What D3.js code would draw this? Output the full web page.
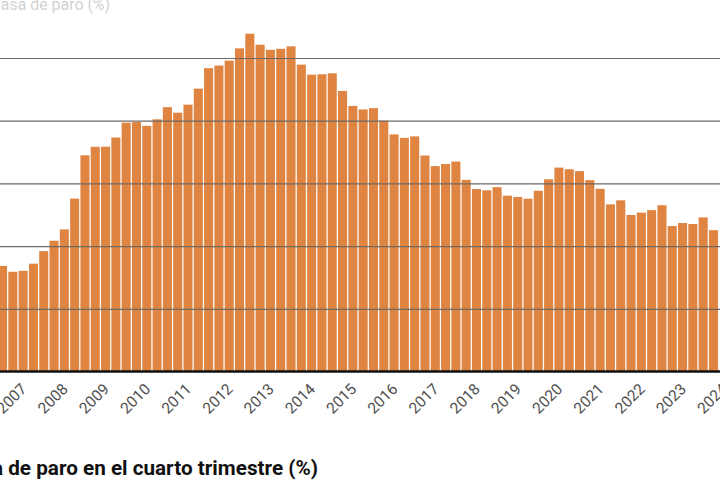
<!DOCTYPE html>
<html><head><meta charset="utf-8">
<script src="https://cdn.jsdelivr.net/npm/d3@7"></script>
<style>html,body{margin:0;padding:0;background:#fff;overflow:hidden}</style>
</head><body><svg id="c" width="720" height="480"></svg>
<script>
const yearLabels = ["2007","2008","2009","2010","2011","2012","2013","2014","2015","2016","2017","2018","2019","2020","2021","2022","2023","2024"];
const quarters = [
 "2007T1","2007T2","2007T3","2007T4","2008T1","2008T2","2008T3","2008T4",
 "2009T1","2009T2","2009T3","2009T4","2010T1","2010T2","2010T3","2010T4",
 "2011T1","2011T2","2011T3","2011T4","2012T1","2012T2","2012T3","2012T4",
 "2013T1","2013T2","2013T3","2013T4","2014T1","2014T2","2014T3","2014T4",
 "2015T1","2015T2","2015T3","2015T4","2016T1","2016T2","2016T3","2016T4",
 "2017T1","2017T2","2017T3","2017T4","2018T1","2018T2","2018T3","2018T4",
 "2019T1","2019T2","2019T3","2019T4","2020T1","2020T2","2020T3","2020T4",
 "2021T1","2021T2","2021T3","2021T4","2022T1","2022T2","2022T3","2022T4",
 "2023T1","2023T2","2023T3","2023T4","2024T1","2024T2"];
const paro = [
 8.42,7.95,8.03,8.60, 9.60,10.43,11.33,13.79,
 17.24,17.92,17.93,18.66, 19.84,19.89,19.59,20.11,
 21.08,20.64,21.28,22.56, 24.19,24.40,24.79,25.77,
 26.94,26.06,25.65,25.73, 25.93,24.47,23.67,23.70,
 23.78,22.37,21.18,20.90, 21.00,20.00,18.91,18.63,
 18.75,17.22,16.38,16.55, 16.74,15.28,14.55,14.45,
 14.70,14.02,13.92,13.78, 14.41,15.33,16.26,16.13,
 15.98,15.26,14.57,13.33, 13.65,12.48,12.67,12.87,
 13.26,11.60,11.84,11.76, 12.29,11.27];
const gridTicks = [5,10,15,20,25];
const yMax = 25;
const titleTop = "Tasa de paro (%)";
const titleBottom = "Tasa de paro en el cuarto trimestre (%)";

const svg = d3.select("#c");
const data = quarters.map((q,i)=>({q, v: paro[i]}));

const x = d3.scaleBand().domain(quarters).range([-2, 718]).paddingInner(0.12).paddingOuter(0);
const y = d3.scaleLinear().domain([0, yMax]).range([371.5, 58]);

svg.append("rect").attr("width",720).attr("height",480).attr("fill","#fff");

svg.append("g").selectAll("rect").data(data).join("rect")
  .attr("x", d=>x(d.q)).attr("width", x.bandwidth())
  .attr("y", d=>y(d.v)).attr("height", d=>y(0)-y(d.v))
  .attr("fill", "#e08541");

const yAxis = d3.axisLeft(y).tickValues(gridTicks).tickSize(-760).tickFormat("");
const gy = svg.append("g").attr("transform","translate(-20,0)").call(yAxis);
gy.select(".domain").remove();
gy.selectAll(".tick line").attr("stroke","#6e6a66").attr("stroke-width",1.2);

svg.append("line").attr("x1",-10).attr("x2",730).attr("y1",y(0)).attr("y2",y(0))
  .attr("stroke","#111").attr("stroke-width",2.5);

const x0 = x(quarters[0]);
const step = x.step();
svg.append("g").selectAll("text").data(yearLabels).join("text")
  .attr("transform",(d,i)=>`translate(${x0 + (4*i+2)*step + x.bandwidth()},390) rotate(-45)`)
  .attr("text-anchor","end")
  .attr("font-family","Roboto, 'Noto Sans', sans-serif")
  .attr("font-size",15.5).attr("fill","#4f4f4f")
  .text(d=>d);

svg.append("text").attr("x",110).attr("y",9.5).attr("text-anchor","end")
  .attr("font-family","Roboto, 'Noto Sans', sans-serif").attr("font-size",15.9)
  .attr("fill","#d2d2d2").text(titleTop);

svg.append("text").attr("x",318).attr("y",474.5).attr("text-anchor","end")
  .attr("font-family","Roboto, 'Noto Sans', sans-serif").attr("font-size",20.7)
  .attr("font-weight","bold").attr("fill","#111").text(titleBottom);
</script></body></html>
